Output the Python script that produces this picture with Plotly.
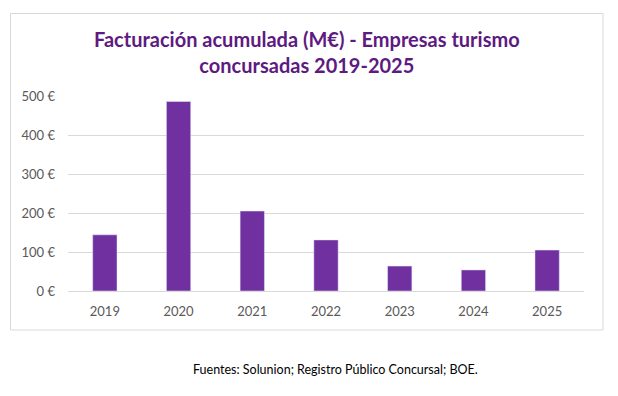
import plotly.graph_objects as go

years = ["2019", "2020", "2021", "2022", "2023", "2024", "2025"]
facturacion = [144, 486, 205, 131, 64, 54, 105]
y_ticks = [0, 100, 200, 300, 400, 500]
y_labels = ["0 €", "100 €", "200 €", "300 €", "400 €", "500 €"]

W, H = 618, 396
L, R, T, B = 68, 34, 96, 105
pw, ph = W - L - R, H - T - B

def px(x):
    return (x - L) / pw

def py(y):
    return (H - B - y) / ph

fig = go.Figure(go.Bar(x=years, y=facturacion, marker_color="#7030A0", width=0.33))

fig.update_layout(
    width=W, height=H,
    margin=dict(l=L, r=R, t=T, b=B),
    paper_bgcolor="white", plot_bgcolor="white",
    showlegend=False,
    font=dict(family="Lato, sans-serif", size=12, color="#595959"),
    xaxis=dict(showgrid=False, showline=True, linecolor="#D9D9D9", linewidth=1,
               ticks="", tickfont=dict(size=13, color="#595959"), ticklabelstandoff=8),
    yaxis=dict(range=[0, 500], tickvals=y_ticks, ticktext=y_labels,
               showgrid=True, gridcolor="#D9D9D9", gridwidth=1, zeroline=False,
               showline=False, tickfont=dict(size=13, color="#595959"),
               ticklabelstandoff=12),
    shapes=[dict(type="rect", xref="paper", yref="paper",
                 x0=px(10.5), x1=px(603), y0=py(13.5), y1=py(330),
                 line=dict(color="#D9D9D9", width=1), fillcolor="rgba(0,0,0,0)", layer="below")],
    annotations=[
        dict(text="<b>Facturación acumulada (M€) - Empresas turismo<br>concursadas 2019-2025</b>",
             xref="paper", yref="paper", x=px(307), y=py(52), xanchor="center", yanchor="middle",
             showarrow=False, font=dict(family="Lato, sans-serif", size=20, color="#5E1A80")),
        dict(text="Fuentes: Solunion; Registro Público Concursal; BOE.",
             xref="paper", yref="paper", x=px(335), y=py(369), xanchor="center", yanchor="middle",
             showarrow=False, font=dict(family="Lato, sans-serif", size=12.5, color="#000000")),
    ],
)

fig.write_html("out.html", config={"displayModeBar": False},
               post_script="document.body.style.margin='0';document.body.style.overflow='hidden';")
